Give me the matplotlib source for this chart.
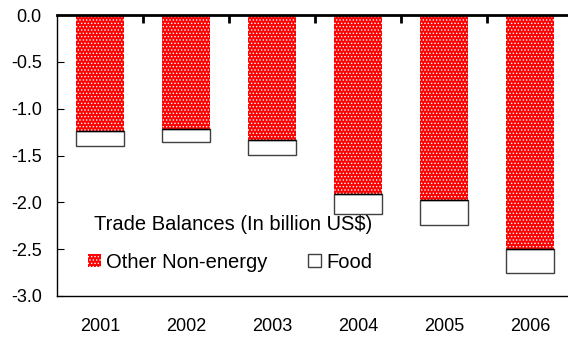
import matplotlib
matplotlib.use("Agg")
import matplotlib.pyplot as plt
import numpy as np
from matplotlib.patches import Patch

years = ["2001", "2002", "2003", "2004", "2005", "2006"]
other_non_energy = [-1.24, -1.22, -1.33, -1.91, -1.98, -2.50]
food = [-0.16, -0.14, -0.17, -0.21, -0.26, -0.25]
y_ticks = [0.0, -0.5, -1.0, -1.5, -2.0, -2.5, -3.0]

plt.rcParams["font.family"] = ["Liberation Sans", "DejaVu Sans"]
plt.rcParams["font.size"] = 13
plt.rcParams["hatch.linewidth"] = 0.6

fig = plt.figure(figsize=(5.68, 3.37), dpi=100)
ax = fig.add_axes([57 / 568, 1 - 296 / 337, 516 / 568, 281 / 337])

x = np.arange(len(years))
w = 0.56
ax.bar(x, other_non_energy, w, color="#ff0000", edgecolor="white",
       linewidth=0, hatch=".....", zorder=2)
ax.bar(x, food, w, bottom=other_non_energy, color="white",
       edgecolor="#404040", linewidth=1, zorder=2)
# black line between the two segments
ax.hlines(other_non_energy, x - w / 2, x + w / 2, color="black", lw=1, zorder=3)

ax.set_xlim(-0.5, 5.5)
ax.set_ylim(-3.0, 0.0)
ax.set_yticks(y_ticks)
ax.set_yticklabels([f"{v:.1f}" for v in y_ticks])

ax.spines["right"].set_visible(False)
ax.spines["top"].set_linewidth(2)
ax.spines["left"].set_linewidth(1)
ax.spines["bottom"].set_linewidth(1)

ax.set_xticks(x)
ax.set_xticklabels(years)
ax.set_xticks(x[:-1] + 0.5, minor=True)
ax.tick_params(axis="x", which="major", length=0, pad=16)
ax.tick_params(axis="x", which="minor", top=True, bottom=False,
               direction="in", length=6, width=2)
ax.tick_params(axis="y", direction="in", length=5, pad=11)

ax.text(233 / 568, 1 - 225 / 337, "Trade Balances (In billion US$)", transform=fig.transFigure,
        ha="center", va="center", fontsize=14.5)
handles = [Patch(facecolor="#ff0000", edgecolor="white", hatch=".....", linewidth=0),
           Patch(facecolor="white", edgecolor="#404040", linewidth=1)]
ax.legend(handles, ["Other Non-energy", "Food"], ncol=2, frameon=False, loc="center",
          bbox_to_anchor=(230 / 568, 1 - 262 / 337), bbox_transform=fig.transFigure,
          handlelength=0.65, handleheight=0.65, handletextpad=0.25,
          columnspacing=2.0, fontsize=14.5)

fig.savefig("out.png", dpi=100)
